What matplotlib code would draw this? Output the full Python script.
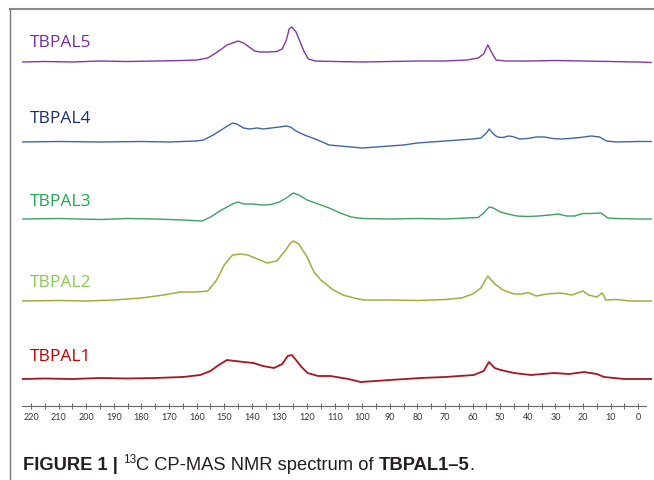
import matplotlib.pyplot as plt
from matplotlib.lines import Line2D

# chemical shift (ppm) / height above each trace's baseline
ppm_5 = [223, 215, 205, 195, 185, 175, 165, 160, 156, 152.5, 149, 146, 145, 143, 141.5, 139, 137, 134,
         131, 129, 127.5, 126.5, 125.5, 124, 122.5, 121, 119.5, 117, 110, 100, 90, 80, 70, 62, 58, 56,
         54.5, 53, 51.5, 48, 40, 30, 20, 10, 0, -4.7]
int_5 = [0, 0.5, 0, 1, 0.5, 1, 1.5, 2, 4, 10, 17, 20, 21, 19, 16, 11, 10, 10,
         10.5, 13, 22, 33, 35, 30, 20, 10, 3, 1, 0.5, 0, 0.5, 1, 1, 2, 4, 8,
         17, 9, 2, 1, 1, 1.5, 1, 0.5, 0, -0.5]

ppm_4 = [223, 210, 195, 180, 170, 160, 157.5, 154, 150, 147, 145.5, 143, 141, 138, 136, 133, 130, 127.5,
         126, 124, 121, 117, 112, 108, 104, 100, 95, 90, 85, 80, 75, 70, 65, 60, 57, 55, 54, 52.5, 51,
         49, 47, 45.5, 43, 40, 37, 34, 31, 28, 25, 21, 17, 14, 11.5, 8, 0, -4.7]
int_4 = [0, 0.5, 0, 0.5, 0, 1, 2, 7, 14, 19, 18, 14, 13, 14, 13, 14, 15, 16,
         15, 11, 7, 3, -3, -4, -5, -6, -5, -4, -3, -1, 0, 1, 2, 3, 4, 9, 13, 8, 5,
         4.5, 6, 5.5, 3, 3.5, 5, 5, 3.5, 3, 3.5, 4.5, 6, 5, 1, 0, 0.5, 0.5]

ppm_3 = [223, 210, 195, 185, 175, 165, 158, 155, 151, 147, 145, 143, 140, 136, 133, 130, 127, 125,
         123, 120, 116, 112, 108, 104, 100, 90, 80, 70, 62, 58, 56, 54, 52.5, 50, 48, 44, 40, 36, 32,
         29, 26, 23, 20, 17, 13.5, 11, 8, 0, -4.7]
int_3 = [0, 0.5, -0.5, 0.5, 0, -1, -2, 2, 9, 15, 17, 15, 15, 14, 14.5, 17, 22, 26,
         24, 19, 15, 11, 6, 2, 0.5, 0, 0.5, 0, 1, 1.5, 6, 12, 11, 7, 5.5, 3, 2.5, 3, 4,
         5, 3, 3, 5.5, 5.5, 6, 1, 0.5, 0, 0]

ppm_2 = [223, 210, 200, 190, 180, 172, 166, 160, 156, 153, 150, 147, 144, 141.5, 138, 134.5, 131, 128,
         126, 125, 123, 120, 117.5, 115, 111, 107, 103, 99.5, 90, 80, 70, 64, 60, 57, 54.5, 52, 49,
         45, 42, 40, 37, 33, 28, 24, 20, 18, 15, 13, 11.7, 8, 3, -4.7]
int_2 = [0, 0.5, 0, 1, 3, 6, 9, 9, 10, 20, 36, 46, 47, 46, 42, 38, 40, 50,
         58, 60, 57, 44, 29, 21, 12, 6, 3, 1, 1, 0.5, 1.5, 3, 7, 13, 25, 17, 11,
         7, 7, 8.5, 5, 7, 8, 6, 10, 6, 4, 8, 1, 1.5, 0, 0]

ppm_1 = [223, 215, 205, 195, 185, 175, 165, 158.7, 155, 152, 149, 146, 143, 139.4, 136, 132, 129, 127,
         125.5, 124, 122, 119.8, 116, 111.5, 105, 100.6, 90, 78.8, 70, 59.6, 56, 54.1, 52, 49.8, 45,
         38.9, 30.5, 25, 19.6, 15, 12.4, 5, -4.7]
int_1 = [0, 0.5, 0, 1, 0.5, 1, 2, 4, 8, 14, 19, 18, 17, 16, 13, 11, 15, 23,
         24, 19, 12, 6, 3, 3, 0, -3, -1, 1, 2, 4, 8, 17, 11, 9, 6,
         4, 6, 5, 7, 5, 2, 0, 0]

names = ['TBPAL5', 'TBPAL4', 'TBPAL3', 'TBPAL2', 'TBPAL1']
baselines = [344, 264, 187, 105, 27]
label_y = [363, 287, 204, 123, 49]
line_colors = ['#7d3aa6', '#4163a8', '#3e9f63', '#a2ad3e', '#a5161f']
label_colors = ['#7030a0', '#1f2f6b', '#1ea955', '#8cc850', '#c00000']
line_widths = [1.0, 1.0, 1.0, 1.1, 1.3]
ppms = [ppm_5, ppm_4, ppm_3, ppm_2, ppm_1]
ints = [int_5, int_4, int_3, int_2, int_1]

xticks = list(range(220, -1, -10))

W, H = 654, 480
fig = plt.figure(figsize=(W / 100, H / 100), dpi=100)
# axes: x 22..652 px, y 9..406 px (1 data unit = 1 px vertically)
ax = fig.add_axes([22 / W, 1 - 406 / H, 630 / W, 397 / H])
ax.set_xlim(223.3, -5.0)
ax.set_ylim(0, 397)

for i in range(5):
    ys = [baselines[i] + v for v in ints[i]]
    ax.plot(ppms[i], ys, color=line_colors[i], lw=line_widths[i], clip_on=False)
    ax.text(220.4, label_y[i], names[i], color=label_colors[i], fontsize=12.5,
            family='Open Sans', ha='left', va='center')

for s in ['top', 'right', 'left']:
    ax.spines[s].set_visible(False)
ax.spines['bottom'].set_bounds(223.3, -2.9)
ax.spines['bottom'].set_color('#666666')
ax.spines['bottom'].set_linewidth(0.8)
ax.set_yticks([])
ax.set_xticks(xticks)
ax.set_xticks(list(range(215, 0, -10)), minor=True)
ax.tick_params(axis='x', which='both', direction='inout', length=4, width=0.7,
               color='#666666', labelsize=6.5, labelcolor='#333333', pad=3)
for lab in ax.get_xticklabels():
    lab.set_family('Lato')

# frame lines of the figure panel
fig.add_artist(Line2D([10 / W, 1], [1 - 9 / H, 1 - 9 / H], color='#8a8a8a', lw=1.5,
                      transform=fig.transFigure))
fig.add_artist(Line2D([10 / W, 10 / W], [1 - 9 / H, 0], color='#7a7a7a', lw=1.0,
                      transform=fig.transFigure))

# caption
cap = dict(fontsize=13.2, family='Liberation Sans', color='#231f20')
t = fig.text(23 / W, 1 - 474 / H, 'FIGURE 1 | ', fontweight='bold', va='bottom', **cap)
t = ax.annotate('13', xy=(1, 0), xycoords=t, xytext=(0, 6), textcoords='offset points',
                va='bottom', fontsize=8.5, family='Liberation Sans', color='#231f20',
                annotation_clip=False)
t = ax.annotate('C CP-MAS NMR spectrum of ', xy=(1, 0), xycoords=t, xytext=(0, -6),
                textcoords='offset points', va='bottom', annotation_clip=False, **cap)
t = ax.annotate('TBPAL1\u20135', xy=(1, 0), xycoords=t, va='bottom', fontweight='bold',
                annotation_clip=False, **cap)
t = ax.annotate('.', xy=(1, 0), xycoords=t, va='bottom', annotation_clip=False, **cap)

fig.savefig('out.png', dpi=100)
